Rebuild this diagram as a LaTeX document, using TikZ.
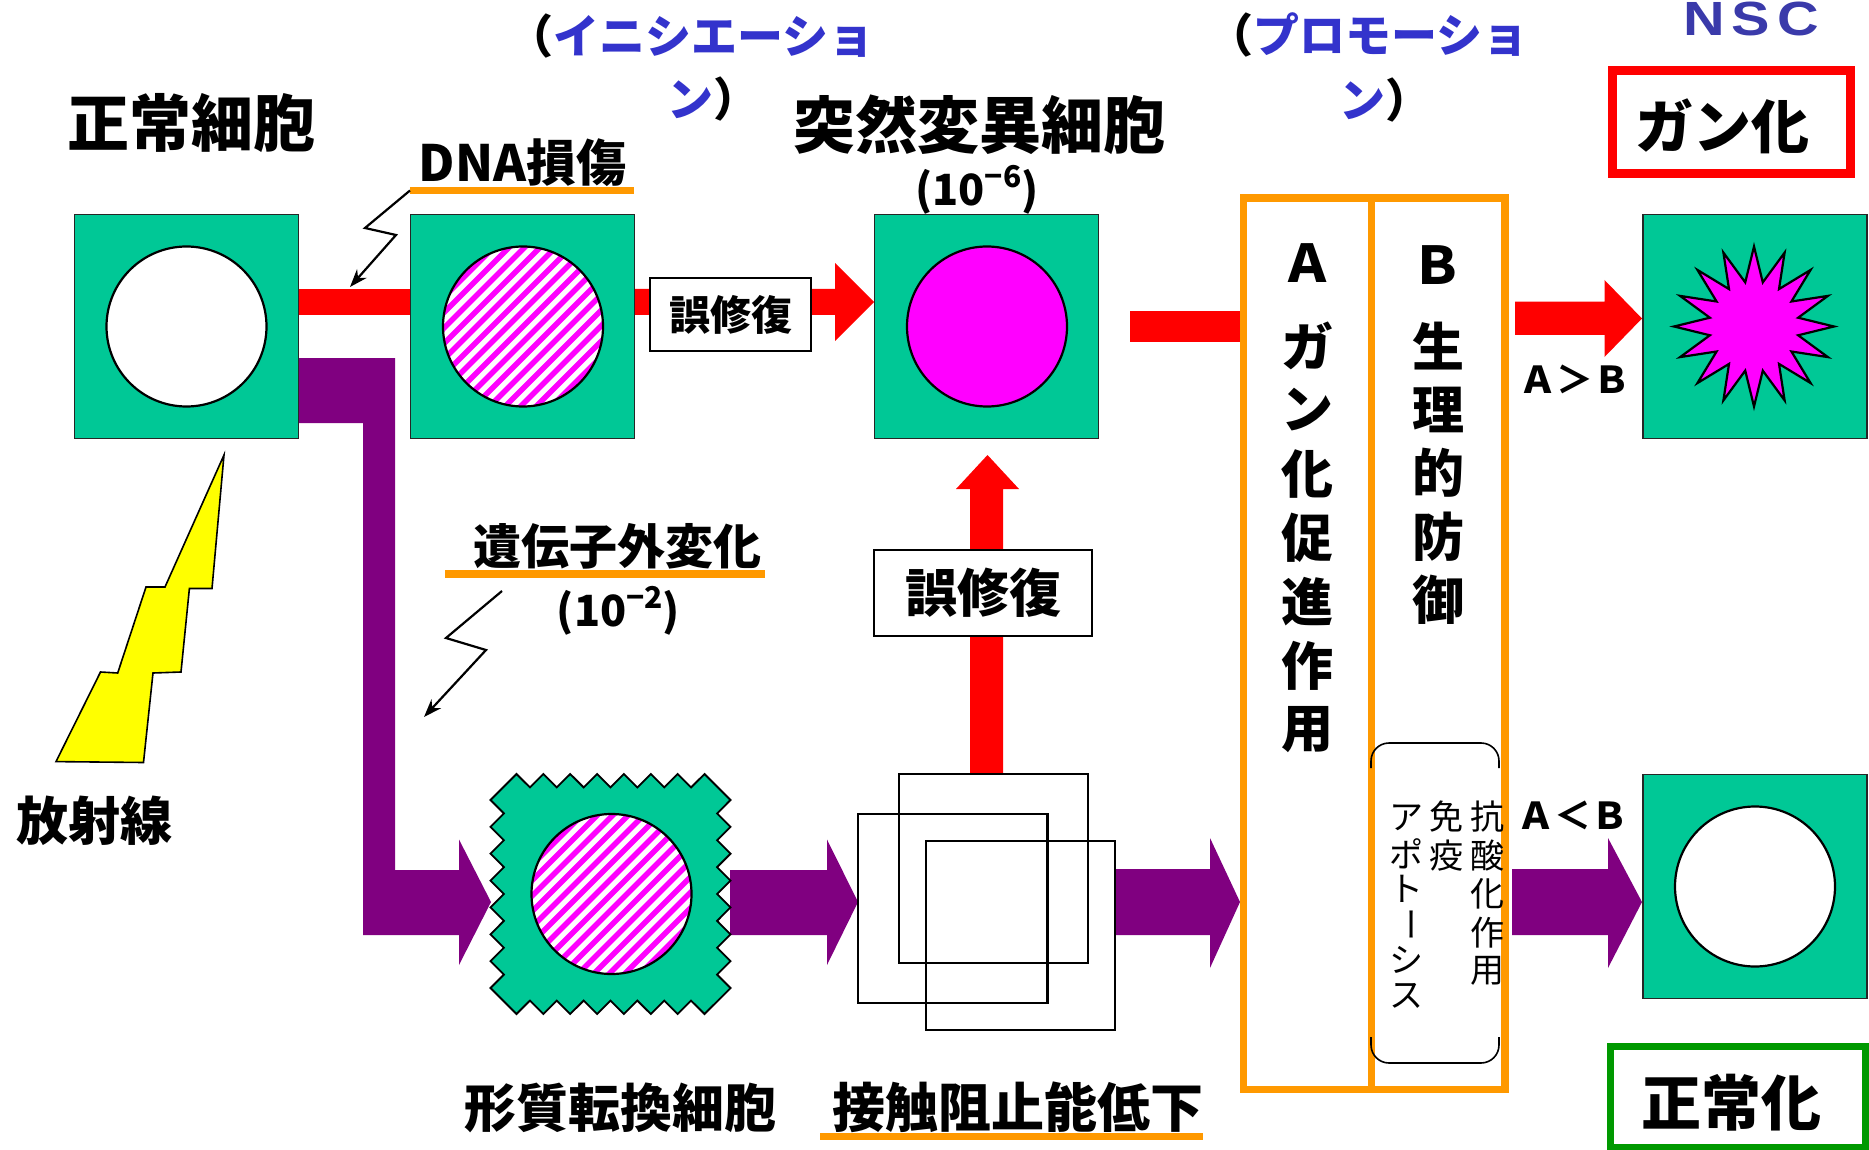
\documentclass[tikz,border=0pt]{standalone}
\usepackage{fontspec}
\usepackage{graphicx}
\setmainfont{Noto Sans CJK JP}
\newfontfamily\nscfont[FakeStretch=1.2]{Liberation Sans}
\usetikzlibrary{arrows.meta,calc}

\definecolor{cellgreen}{RGB}{0,200,150}
\definecolor{darkpurple}{RGB}{128,0,128}
\definecolor{boxorange}{RGB}{255,153,0}
\definecolor{phaseblue}{RGB}{51,51,204}
\definecolor{nscblue}{RGB}{58,58,170}
\definecolor{okgreen}{RGB}{0,153,0}
\definecolor{nucmagenta}{RGB}{255,0,255}
\definecolor{arrowred}{RGB}{255,0,0}
\definecolor{boltyellow}{RGB}{255,255,0}

\newcommand\tsz[1]{\fontsize{#1}{#1}\selectfont}
\newcommand\tatebar{\rotatebox[origin=c]{-90}{ー}}

\tikzset{
  lbl/.style={inner sep=0pt},
  cellsq/.style={draw=black!85, line width=0.8pt, fill=cellgreen, minimum size=112pt, inner sep=0pt},
  nucleus/.style={circle, draw=black, line width=1.1pt, minimum size=80pt, inner sep=0pt},
  wordbox/.style={draw=black, line width=0.9pt, fill=white, inner sep=0pt},
  uline/.style={draw=boxorange, line width=3.6pt},
  zap/.style={draw=black, line width=1.1pt, -{Stealth[length=9pt,width=6.5pt]}},
  outlinesq/.style={draw=black, line width=1.3pt},
}

% hatched nucleus: #1 centre coordinate, #2 node name
\newcommand\stripednucleus[2]{%
  \begin{scope}
    \clip (#1) circle[radius=40pt];
    \fill[white] (#1) circle[radius=40pt];
    \foreach \k in {-12,...,12}{
      \draw[nucmagenta, line width=2.8pt]
        ($(#1)+({\k*15.5-100},100)$) -- ($(#1)+({\k*15.5+100},-100)$);
    }
  \end{scope}
  \node[nucleus] (#2) at (#1) {};
}

\begin{document}
\begin{tikzpicture}[x=0.5pt,y=-0.5pt]
\useasboundingbox (0,0) rectangle (1869,1150);
\fill[white] (0,0) rectangle (1869,1150);

% ---------- red pathway (upper) ----------
\fill[arrowred] (298,289) rectangle (411,315);
\fill[arrowred] (634,289) -- (835,289) -- (835,263) -- (874,302)
  -- (835,341) -- (835,315) -- (634,315) -- cycle;
\fill[arrowred] (1130,311) rectangle (1240,342);
\fill[arrowred] (1515,301.7) -- (1604.5,301.7) -- (1604.5,280) -- (1642,318.5)
  -- (1604.5,357) -- (1604.5,335) -- (1515,335) -- cycle;
% upward red arrow from the overlapping cells
\fill[arrowred] (970,774) -- (970,489) -- (956,489) -- (987.5,455)
  -- (1019,489) -- (1003,489) -- (1003,774) -- cycle;

% ---------- purple pathway (lower) ----------
\fill[darkpurple] (298,358) -- (395,358) -- (395,870) -- (459,870) -- (459,839.5)
  -- (491,902) -- (459,965) -- (459,935) -- (363,935) -- (363,423) -- (298,423) -- cycle;
\fill[darkpurple] (730,870) -- (827,870) -- (827,839.5) -- (858,902)
  -- (827,965) -- (827,935) -- (730,935) -- cycle;
\fill[darkpurple] (1115,869) -- (1210,869) -- (1210,838) -- (1240,902)
  -- (1210,968) -- (1210,935) -- (1115,935) -- cycle;
\fill[darkpurple] (1512,869) -- (1608,869) -- (1608,838) -- (1642,902)
  -- (1608,968) -- (1608,935) -- (1512,935) -- cycle;

% ---------- cells ----------
\node[cellsq] (normal) at (186.5,326.5) {};
\node[nucleus, fill=white] (normalnuc) at (186.5,326.5) {};

\node[cellsq] (damaged) at (522.6,326.5) {};
\coordinate (dmgc) at (523,326.5);
\stripednucleus{dmgc}{dmgnuc}

\node[cellsq] (mutant) at (986.5,326.5) {};
\node[nucleus, fill=nucmagenta] (mutnuc) at (987,326.5) {};

\node[cellsq] (cancer) at (1755,326.5) {};
\coordinate (starc) at (1754,326.5);
\filldraw[fill=nucmagenta, draw=black, line width=1.1pt, line join=miter]
  ($(starc)+(90:80)$)
  foreach \i in {1,...,15} { -- ($(starc)+({90+22.5*\i-11.25}:45)$) -- ($(starc)+({90+22.5*\i}:80)$) }
  -- ($(starc)+(78.75:45)$) -- cycle;

\node[cellsq] (recovered) at (1755,886.5) {};
\node[nucleus, fill=white] (recnuc) at (1755,886.5) {};

% transformed cell with a serrated membrane
\coordinate (transc) at (610.5,894);
\filldraw[fill=cellgreen, draw=black, line width=0.9pt, line join=miter, shift={(610.5,894)}]
  (-94,-120)
  foreach \i in {0,...,6} { -- ({-94+26.86*\i+13.43},-106.6) -- ({-94+26.86*(\i+1)},-120) }
  -- (120,-94)
  foreach \i in {0,...,6} { -- (106.6,{-94+26.86*\i+13.43}) -- (120,{-94+26.86*(\i+1)}) }
  -- (94,120)
  foreach \i in {0,...,6} { -- ({94-26.86*\i-13.43},106.6) -- ({94-26.86*(\i+1)},120) }
  -- (-120,94)
  foreach \i in {0,...,6} { -- (-106.6,{94-26.86*\i-13.43}) -- (-120,{94-26.86*(\i+1)}) }
  -- cycle;
\coordinate (transnucc) at (611.5,894);
\stripednucleus{transnucc}{transnuc}

% loss of contact inhibition: piled-up outlines
\draw[outlinesq] (899,774) rectangle (1088,963);
\draw[outlinesq] (858,814) rectangle (1047.5,1003);
\draw[outlinesq] (926,841) rectangle (1115,1030);

% ---------- misrepair boxes ----------
\node[wordbox, minimum width=80.5pt, minimum height=36.5pt, font=\tsz{20.5}\bfseries]
  (misrep1) at (730.5,314.5) {誤修復};
\node[wordbox, minimum width=109pt, minimum height=43pt, font=\tsz{26}\bfseries]
  (misrep2) at (983,593) {誤修復};

% ---------- radiation bolt ----------
\filldraw[fill=boltyellow, draw=black, line width=0.8pt, line join=miter]
  (224,455) -- (212,588.5) -- (189.4,588.5) -- (181,672) -- (153,673) -- (143.5,762.5)
  -- (56,761.6) -- (100.5,672) -- (117.7,673) -- (146,587) -- (165,587) -- cycle;
\node[lbl, font=\tsz{26}\bfseries] (radiation) at (94.5,820.5) {放射線};

% ---------- labels ----------
\node[lbl, font=\tsz{31}\bfseries] (tnormal) at (191.5,123.5) {正常細胞};
\node[lbl, font=\tsz{31}\bfseries] (tmutant) at (979,125) {突然変異細胞};
\node[lbl, font=\tsz{21.5}\bfseries] (rate6) at (977,190) {(10\raisebox{0.42em}{\tsz{15}−6})};

\node[lbl, font=\tsz{23}\bfseries, anchor=west] (init1) at (507,36.5) {（\textcolor{phaseblue}{イニシエーショ}};
\node[lbl, font=\tsz{23}\bfseries, anchor=west] (init2) at (667,99) {\textcolor{phaseblue}{ン}）};
\node[lbl, font=\tsz{23}\bfseries, anchor=west] (prom1) at (1207,35) {（\textcolor{phaseblue}{プロモーショ}};
\node[lbl, font=\tsz{23}\bfseries, anchor=west] (prom2) at (1339,100) {\textcolor{phaseblue}{ン}）};

\node[lbl, font=\tsz{25}\bfseries] (tdna) at (522.5,162.5) {DNA損傷};
\coordinate (dnaL) at (410,190.5);
\coordinate (dnaR) at (634,190.5);
\draw[uline] (dnaL) -- (dnaR);
\coordinate (hit1) at (350,287);
\draw[zap] (dnaL) -- (365,228) -- (396,235) -- (hit1);

\node[lbl, font=\tsz{24}\bfseries] (tepi) at (617,546.5) {遺伝子外変化};
\coordinate (epiL) at (445,574);
\coordinate (epiR) at (765,574);
\draw[uline] (epiL) -- (epiR);
\node[lbl, font=\tsz{21.5}\bfseries] (rate2) at (618.5,611) {(10\raisebox{0.42em}{\tsz{15}−2})};
\coordinate (epiS) at (502,591);
\coordinate (hit2) at (424,717);
\draw[zap] (epiS) -- (446,638) -- (486,650) -- (hit2);

\node[lbl, font=\tsz{26}\bfseries] (ttrans) at (620,1108) {形質転換細胞};
\node[lbl, font=\tsz{26.5}\bfseries] (tcontact) at (1017.5,1107) {接触阻止能低下};
\coordinate (ctL) at (820,1136.5);
\coordinate (ctR) at (1203,1136.5);
\draw[uline] (ctL) -- (ctR);

% ---------- promotion balance box ----------
\draw[boxorange, line width=3.6pt] (1243.5,198) rectangle (1505,1089.5);
\draw[boxorange, line width=3.6pt] (1371.5,198) -- (1371.5,1089.5);

\node[lbl, font=\tsz{26}\bfseries] (colA) at (1307,263) {Ａ};
\foreach \c [count=\i] in {ガ,ン,化,促,進,作,用}
  \node[lbl, font=\tsz{26}\bfseries] (colA\i) at (1307,{346+64*(\i-1)}) {\c};
\node[lbl, font=\tsz{26}\bfseries] (colB) at (1437,265) {Ｂ};
\foreach \c [count=\i] in {生,理,的,防,御}
  \node[lbl, font=\tsz{26}\bfseries] (colB\i) at (1438,{346+63.5*(\i-1)}) {\c};

% bracket around the defence mechanisms
\draw[black, line width=0.8pt, rounded corners=9pt]
  (1371,768) -- (1371,743) -- (1499,743) -- (1499,768);
\draw[black, line width=0.8pt, rounded corners=9pt]
  (1371,1037) -- (1371,1063) -- (1499,1063) -- (1499,1037);
\foreach \c [count=\i] in {抗,酸,化,作,用}
  \node[lbl, font=\tsz{17}] (anti\i) at (1487.5,{816.7+38.6*(\i-1)}) {\c};
\foreach \c [count=\i] in {免,疫}
  \node[lbl, font=\tsz{17}] (immu\i) at (1446,{816.7+39*(\i-1)}) {\c};
\foreach \c [count=\i] in {ア,ポ,ト,\tatebar,シ,ス}
  \node[lbl, font=\tsz{17}] (apop\i) at (1406,{818+35.6*(\i-1)}) {\c};

\node[lbl, font=\tsz{18.5}\bfseries] (agtb) at (1575,379) {Ａ＞Ｂ};
\node[lbl, font=\tsz{18.5}\bfseries] (altb) at (1573,815) {Ａ＜Ｂ};

% ---------- outcomes ----------
\draw[arrowred, line width=4.5pt] (1612.3,70.5) rectangle (1850.3,174);
\node[lbl, font=\tsz{29}\bfseries] (tcancer) at (1722,126) {ガン化};
\draw[okgreen, line width=3.6pt] (1610.7,1046.3) rectangle (1865.5,1147.3);
\node[lbl, font=\tsz{30}\bfseries] (tnormalize) at (1731.5,1102.5) {正常化};

\node[lbl, font=\nscfont\bfseries\tsz{24}, text=nscblue, anchor=base west] (nsc) at (1683,36) {N\kern3.5pt S\kern3.5pt C};
\end{tikzpicture}
\end{document}
